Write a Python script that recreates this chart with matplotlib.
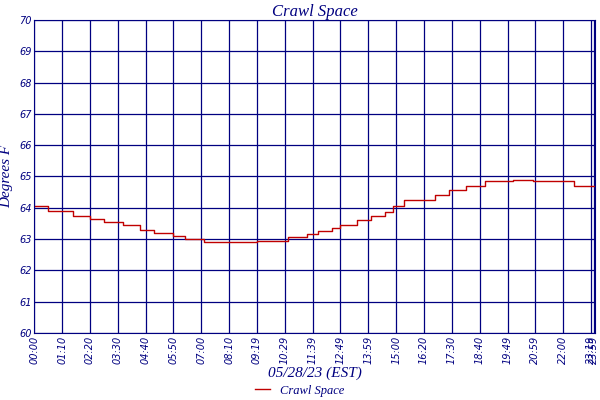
import numpy as np
import matplotlib.pyplot as plt

navy = "#000080"
red = "#c00000"

tick_labels = ["00:00", "01:10", "02:20", "03:30", "04:40", "05:50", "07:00",
               "08:10", "09:19", "10:29", "11:39", "12:49", "13:59", "15:00",
               "16:20", "17:30", "18:40", "19:49", "20:59", "22:00", "23:19", "23:59"]
tick_pos = list(range(21)) + [20.1]

# step changes: (position in tick units, temperature)
step_x = [0.0, 0.5, 1.4, 2.0, 2.5, 3.2, 3.8, 4.3, 5.0, 5.4, 6.1, 8.0, 9.1,
          9.8, 10.2, 10.7, 11.0, 11.6, 12.1, 12.6, 12.9, 13.3, 14.4,
          14.9, 15.5, 16.2, 17.2, 17.9, 19.4, 20.1]
step_t = [64.05, 63.9, 63.75, 63.65, 63.55, 63.45, 63.3, 63.2, 63.1, 63.0,
          62.9, 62.95, 63.05, 63.15, 63.25, 63.35, 63.45, 63.6, 63.75,
          63.85, 64.05, 64.25, 64.4, 64.55, 64.7, 64.85, 64.9, 64.85, 64.7, 64.7]

fig = plt.figure(figsize=(6, 4), dpi=100)
ax = fig.add_axes([0.057, 0.168, 0.935, 0.782])
ax.step(step_x, step_t, where="post", color=red, lw=1, label="Crawl Space")
ax.set_xlim(0, 20.15)
ax.set_ylim(60, 70)
ax.set_yticks(range(60, 71))
ax.set_xticks(tick_pos)
ax.set_xticklabels(tick_labels, rotation=90, fontsize=7, color=navy, style="italic")
for lab in ax.get_yticklabels():
    lab.set_fontsize(7); lab.set_color(navy); lab.set_style("italic")
ax.tick_params(length=0, pad=2)
ax.grid(True, color=navy, lw=0.9)
for s in ax.spines.values():
    s.set_color(navy)
ax.set_title("Crawl Space", color=navy, style="italic", fontsize=12, pad=3, family="Liberation Serif")
ax.set_ylabel("Degrees F", color=navy, style="italic", fontsize=11, family="Liberation Serif", labelpad=4)
ax.set_xlabel("05/28/23 (EST)", color=navy, style="italic", fontsize=11, family="Liberation Serif", labelpad=2)
fig.legend(loc="lower center", bbox_to_anchor=(0.5, -0.02), frameon=False,
           prop={"family": "Liberation Serif", "style": "italic", "size": 9},
           labelcolor=navy, handlelength=1.2)
fig.savefig("out.png")
